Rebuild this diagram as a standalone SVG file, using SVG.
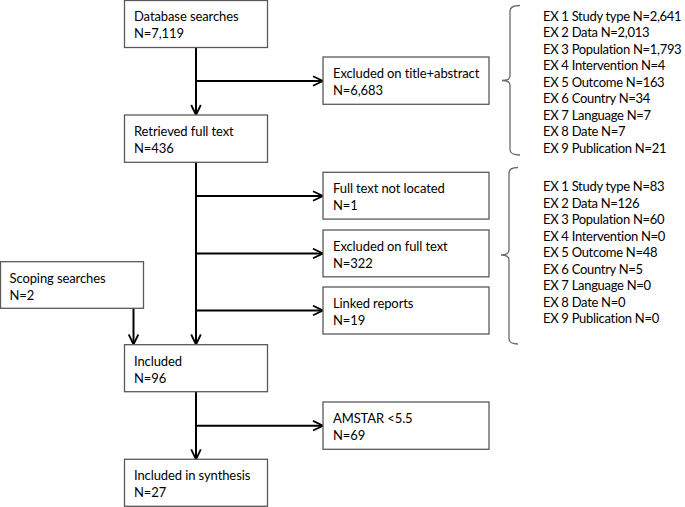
<svg xmlns="http://www.w3.org/2000/svg" width="685" height="507" viewBox="0 0 685 507">
<style>
  .box { fill: #fff; stroke: #5a5a5a; stroke-width: 1.3; }
  .t { font-family: Lato, "Liberation Sans", sans-serif; font-size: 13px; letter-spacing: -0.1px; fill: #000; }
  .ex { letter-spacing: -0.3px; }
  .conn { fill: none; stroke: #000; stroke-width: 2; }
  .brace { fill: none; stroke: #6a6a6a; stroke-width: 1.3; }
</style>
<defs>
  <marker id="arr" markerUnits="userSpaceOnUse" markerWidth="12" markerHeight="12" viewBox="0 0 12 12" refX="11" refY="6" orient="auto">
    <path d="M1,1.2 L11,6 L1,10.8" fill="none" stroke="#000" stroke-width="1.8"/>
  </marker>
</defs>
<rect width="685" height="507" fill="#fff"/>

<g id="connectors">
  <line class="conn" x1="196" y1="47" x2="196" y2="115" marker-end="url(#arr)"/>
  <line class="conn" x1="196" y1="81" x2="323" y2="81" marker-end="url(#arr)"/>
  <line class="conn" x1="196" y1="162" x2="196" y2="344.5" marker-end="url(#arr)"/>
  <line class="conn" x1="196" y1="196" x2="323" y2="196" marker-end="url(#arr)"/>
  <line class="conn" x1="196" y1="253.5" x2="323" y2="253.5" marker-end="url(#arr)"/>
  <line class="conn" x1="196" y1="310.5" x2="323" y2="310.5" marker-end="url(#arr)"/>
  <line class="conn" x1="133.5" y1="308.3" x2="133.5" y2="344.5" marker-end="url(#arr)"/>
  <line class="conn" x1="196" y1="391.7" x2="196" y2="459.3" marker-end="url(#arr)"/>
  <line class="conn" x1="196" y1="425.7" x2="323" y2="425.7" marker-end="url(#arr)"/>
</g>

<g id="database">
  <rect class="box" x="124.5" y="0.5" width="143" height="47"/>
  <text class="t" x="134" y="21">Database searches</text>
  <text class="t" x="134" y="38">N=7,119</text>
</g>
<g id="excluded-title">
  <rect class="box" x="323" y="57" width="166" height="47.3"/>
  <text class="t" x="333" y="78">Excluded on title+abstract</text>
  <text class="t" x="333" y="95">N=6,683</text>
</g>
<g id="retrieved">
  <rect class="box" x="124.5" y="115" width="143" height="47.3"/>
  <text class="t" x="134" y="136">Retrieved full text</text>
  <text class="t" x="134" y="153">N=436</text>
</g>
<g id="not-located">
  <rect class="box" x="323" y="172.3" width="166" height="46.8"/>
  <text class="t" x="333" y="193">Full text not located</text>
  <text class="t" x="333" y="210">N=1</text>
</g>
<g id="excluded-full">
  <rect class="box" x="323" y="230" width="166" height="46.8"/>
  <text class="t" x="333" y="251">Excluded on full text</text>
  <text class="t" x="333" y="268">N=322</text>
</g>
<g id="linked">
  <rect class="box" x="323" y="287" width="166" height="47"/>
  <text class="t" x="333" y="308">Linked reports</text>
  <text class="t" x="333" y="325">N=19</text>
</g>
<g id="scoping">
  <rect class="box" x="0.5" y="261.7" width="143" height="46.6"/>
  <text class="t" x="9.5" y="282.5">Scoping searches</text>
  <text class="t" x="9.5" y="299.5">N=2</text>
</g>
<g id="included">
  <rect class="box" x="124.5" y="344.7" width="143" height="47"/>
  <text class="t" x="134" y="365.5">Included</text>
  <text class="t" x="134" y="382.5">N=96</text>
</g>
<g id="amstar">
  <rect class="box" x="323" y="402" width="166" height="47.3"/>
  <text class="t" x="333" y="423">AMSTAR &lt;5.5</text>
  <text class="t" x="333" y="440">N=69</text>
</g>
<g id="synthesis">
  <rect class="box" x="124.5" y="459.3" width="143" height="47"/>
  <text class="t" x="134" y="480">Included in synthesis</text>
  <text class="t" x="134" y="497">N=27</text>
</g>

<g id="reasons-title">
  <path class="brace" d="M520,5.5 Q510,5.5 510,11 L510,76 Q510,80.5 502,80.5 Q510,80.5 510,85 L510,149.5 Q510,155 520,155"/>
  <text class="t ex" x="543" y="20.5">EX 1 Study type N=2,641</text>
  <text class="t ex" x="543" y="37">EX 2 Data N=2,013</text>
  <text class="t ex" x="543" y="53.5">EX 3 Population N=1,793</text>
  <text class="t ex" x="543" y="70">EX 4 Intervention N=4</text>
  <text class="t ex" x="543" y="86.5">EX 5 Outcome N=163</text>
  <text class="t ex" x="543" y="103">EX 6 Country N=34</text>
  <text class="t ex" x="543" y="119.5">EX 7 Language N=7</text>
  <text class="t ex" x="543" y="136">EX 8 Date N=7</text>
  <text class="t ex" x="543" y="152.5">EX 9 Publication N=21</text>
</g>
<g id="reasons-full">
  <path class="brace" d="M518,167.5 Q509,167.5 509,173 L509,250 Q509,255 501,255 Q509,255 509,260 L509,338.5 Q509,344 518,344"/>
  <text class="t ex" x="543" y="191">EX 1 Study type N=83</text>
  <text class="t ex" x="543" y="207.5">EX 2 Data N=126</text>
  <text class="t ex" x="543" y="224">EX 3 Population N=60</text>
  <text class="t ex" x="543" y="240.5">EX 4 Intervention N=0</text>
  <text class="t ex" x="543" y="257">EX 5 Outcome N=48</text>
  <text class="t ex" x="543" y="273.5">EX 6 Country N=5</text>
  <text class="t ex" x="543" y="290">EX 7 Language N=0</text>
  <text class="t ex" x="543" y="306.5">EX 8 Date N=0</text>
  <text class="t ex" x="543" y="323">EX 9 Publication N=0</text>
</g>
</svg>
